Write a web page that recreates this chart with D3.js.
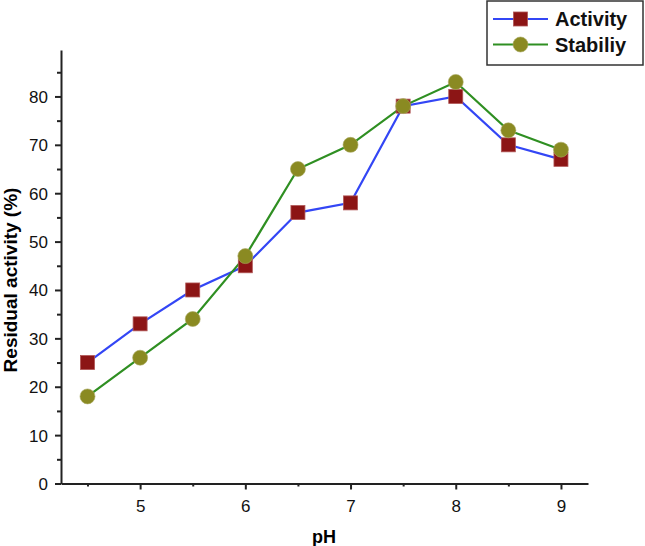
<!DOCTYPE html>
<html><head><meta charset="utf-8">
<script src="https://cdn.jsdelivr.net/npm/d3@7"></script>
<style>body{margin:0;background:#fff}svg{display:block}text{font-family:"Liberation Sans",Arial,sans-serif}</style>
</head><body>
<svg id="c" width="645" height="546"></svg>
<script>
const pH = [4.5,5,5.5,6,6.5,7,7.5,8,8.5,9];
const activity = [25,33,40,45,56,58,78,80,70,67];
const stability = [18,26,34,47,65,70,78,83,73,69];
const xTicks = [5,6,7,8,9];
const yTicks = [0,10,20,30,40,50,60,70,80];
const seriesNames = ["Activity","Stabiliy"];

const svg = d3.select("#c");
const x = d3.scaleLinear().domain([4.248,9.257]).range([61,588]);
const y = d3.scaleLinear().domain([0,89.6]).range([483.5,50]);

const axisColor = "#222";
// x axis
const gx = svg.append("g").attr("transform","translate(0,483.5)");
gx.call(d3.axisBottom(x).tickValues(xTicks).tickFormat(d3.format("d")).tickSize(6).tickSizeOuter(0));
gx.append("g").call(d3.axisBottom(x).tickValues([4.5,5.5,6.5,7.5,8.5]).tickFormat("").tickSize(3).tickSizeOuter(0)).select(".domain").remove();
// y axis
const gy = svg.append("g").attr("transform","translate(61,0)");
gy.call(d3.axisLeft(y).tickValues(yTicks).tickFormat(d3.format("d")).tickSize(6).tickSizeOuter(0));
gy.append("g").call(d3.axisLeft(y).tickValues([5,15,25,35,45,55,65,75,85]).tickFormat("").tickSize(4).tickSizeOuter(0)).select(".domain").remove();
svg.selectAll(".domain").attr("stroke",axisColor).attr("stroke-width",2);
svg.selectAll(".tick line").attr("stroke",axisColor).attr("stroke-width",2);
gx.attr("font-size",17); gy.attr("font-size",17);
gx.selectAll(".tick text").style("font-size","17px").attr("fill","#111").attr("y",28.5).attr("dy",0).style("font-family","Liberation Sans, Arial, sans-serif");
gy.selectAll(".tick text").style("font-size","17px").attr("fill","#111").attr("x",-13).attr("dy","0.35em").style("font-family","Liberation Sans, Arial, sans-serif");

// axis titles
svg.append("text").attr("x",324).attr("y",543).attr("text-anchor","middle").attr("font-size",18).attr("font-weight","bold").text("pH");
svg.append("text").attr("transform","translate(17,280) rotate(-90)").attr("text-anchor","middle").attr("font-size",19).attr("font-weight","bold").text("Residual activity (%)");

const line = d3.line().x(d=>x(d[0])).y(d=>y(d[1]));
const aData = pH.map((p,i)=>[p,activity[i]]);
const sData = pH.map((p,i)=>[p,stability[i]]);
const blue = "#3346f5", green = "#2f8f22", red = "#8c1515", olive = "#8a8a22";

svg.append("path").datum(aData).attr("d",line).attr("fill","none").attr("stroke",blue).attr("stroke-width",2.2);
svg.append("path").datum(sData).attr("d",line).attr("fill","none").attr("stroke",green).attr("stroke-width",2.2);

svg.selectAll(".sq").data(aData).enter().append("rect")
  .attr("x",d=>x(d[0])-7).attr("y",d=>y(d[1])-7).attr("width",14).attr("height",14)
  .attr("fill",red).attr("stroke","#b05555").attr("stroke-width",0.8);
svg.selectAll(".ci").data(sData).enter().append("circle")
  .attr("cx",d=>x(d[0])).attr("cy",d=>y(d[1])).attr("r",7.5)
  .attr("fill",olive).attr("stroke","#a8a860").attr("stroke-width",0.6);

// legend
const lg = svg.append("g");
lg.append("rect").attr("x",487).attr("y",1).attr("width",156).attr("height",64).attr("fill","#fff").attr("stroke","#333").attr("stroke-width",1.5);
const rows = [{n:seriesNames[0],c:blue,m:"sq"},{n:seriesNames[1],c:green,m:"ci"}];
rows.forEach((r,i)=>{
  const yy = 19 + i*25.5;
  lg.append("line").attr("x1",493).attr("x2",548).attr("y1",yy).attr("y2",yy).attr("stroke",r.c).attr("stroke-width",2.2);
  if(r.m==="sq") lg.append("rect").attr("x",520.5-7).attr("y",yy-7).attr("width",14).attr("height",14).attr("fill",red).attr("stroke","#b05555").attr("stroke-width",0.8);
  else lg.append("circle").attr("cx",520.5).attr("cy",yy).attr("r",7.5).attr("fill",olive).attr("stroke","#a8a860").attr("stroke-width",0.6);
  lg.append("text").attr("x",555).attr("y",yy+7).attr("font-size",20).attr("font-weight","bold").attr("fill","#111").text(r.n);
});
</script>
</body></html>
